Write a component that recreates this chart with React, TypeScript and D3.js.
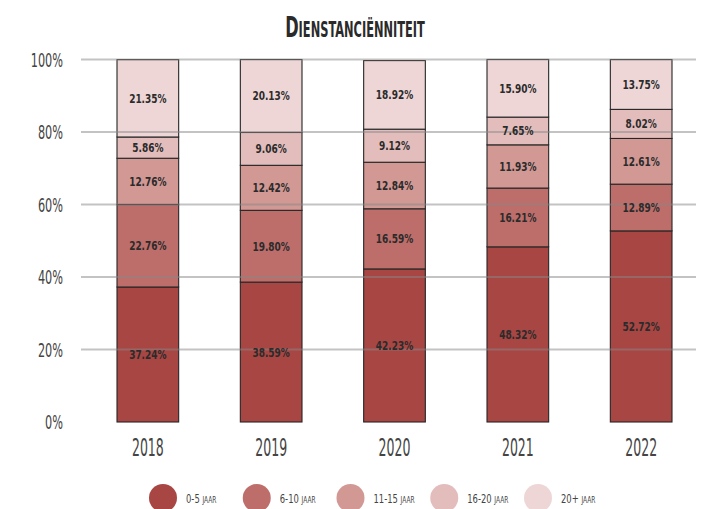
import React from "react";
import * as d3 from "d3";

const years = ["2018", "2019", "2020", "2021", "2022"];
const groups = ["0-5 jaar", "6-10 jaar", "11-15 jaar", "16-20 jaar", "20+ jaar"];
const colors = ["#a84643", "#bd6e6a", "#d19894", "#e3bdbc", "#eed6d6"];
const s0_5 = [37.24, 38.59, 42.23, 48.32, 52.72];
const s6_10 = [22.76, 19.8, 16.59, 16.21, 12.89];
const s11_15 = [12.76, 12.42, 12.84, 11.93, 12.61];
const s16_20 = [5.86, 9.06, 9.12, 7.65, 8.02];
const s20p = [21.35, 20.13, 18.92, 15.9, 13.75];
const yTicks = [0, 20, 40, 60, 80, 100];

const series = [s0_5, s6_10, s11_15, s16_20, s20p];

const W = 707;
const H = 509;
const FONT = "'DejaVu Sans Condensed', 'DejaVu Sans', sans-serif";

function T(props: {
  x: number; y: number; sx: number; size: number; anchor?: string; fill?: string;
  weight?: any; caps?: boolean; children: any;
}) {
  const { x, y, sx, size, anchor, fill, weight, caps, children } = props;
  return (
    <text transform={`translate(${x},${y}) scale(${sx},1)`} textAnchor={anchor || "start"}
      fontFamily={FONT} fontSize={size} fill={fill || "#444"} fontWeight={weight || "normal"}
      style={{ fontVariant: caps ? "small-caps" : "normal", fontStretch: "condensed" }}>
      {children}
    </text>
  );
}

export default function App() {
  const x = d3.scaleBand<string>().domain(years).range([117, 672]).paddingInner(0.5).paddingOuter(0);
  const y = d3.scaleLinear().domain([0, 100]).range([422, 59.5]);
  const legendX = d3.scalePoint<string>().domain(groups).range([163, 538]);

  const table = years.map((yr, i) => {
    const row: any = { year: yr };
    groups.forEach((g, k) => (row[g] = series[k][i]));
    return row;
  });
  const stacked = d3.stack<any>().keys(groups)(table);

  return (
    <svg width={W} height={H} style={{ position: "absolute", left: 0, top: 0, background: "#fff" }}>
      <T x={355} y={37} sx={0.62} size={29} anchor="middle" weight="bold" fill="#2a2a2a" caps>
        Dienstanciënniteit
      </T>

      {yTicks.map((t) => (
        <T key={"yt" + t} x={63} y={y(t) + 7} sx={0.66} size={19} anchor="end" fill="#444">{t}%</T>
      ))}

      {stacked.map((layer, k) => (
        <g key={"l" + k}>
          {layer.map((d, i) => (
            <rect key={"r" + i} x={x(years[i])!} y={y(d[1])} width={x.bandwidth()}
              height={y(d[0]) - y(d[1])} fill={colors[k]} stroke="#262626" strokeWidth={1.1} />
          ))}
        </g>
      ))}

      {yTicks.filter((t) => t > 0).map((t) => (
        <line key={"g" + t} x1={81} x2={696} y1={y(t)} y2={y(t)} stroke="#888" strokeOpacity={0.5} strokeWidth={2} />
      ))}

      {stacked.map((layer, k) => (
        <g key={"lab" + k}>
          {layer.map((d, i) => (
            <T key={"t" + i} x={x(years[i])! + x.bandwidth() / 2} y={y((d[0] + d[1]) / 2) + 4.5}
              sx={0.8} size={12.5} anchor="middle" fill="#2b2b2b" weight={600}>
              {series[k][i].toFixed(2)}%
            </T>
          ))}
        </g>
      ))}

      {years.map((yr) => (
        <T key={"x" + yr} x={x(yr)! + x.bandwidth() / 2} y={456} sx={0.58} size={24} anchor="middle" fill="#444">
          {yr}
        </T>
      ))}

      {groups.map((g, k) => (
        <g key={"lg" + k}>
          <circle cx={legendX(g)!} cy={498} r={14} fill={colors[k]} />
          <T x={legendX(g)! + 23} y={502.5} sx={0.72} size={13} fill="#444" caps>{g}</T>
        </g>
      ))}
    </svg>
  );
}
